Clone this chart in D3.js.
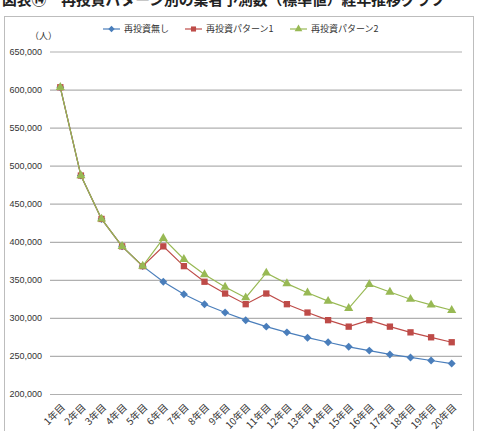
<!DOCTYPE html>
<html>
<head>
<meta charset="utf-8">
<script src="https://cdn.jsdelivr.net/npm/d3@7"></script>
<style>
  body { margin: 0; background: #fff; }
  svg { display: block; }
</style>
</head>
<body>
<div id="chart"></div>
<script>
const years = ["1年目", "2年目", "3年目", "4年目", "5年目", "6年目", "7年目", "8年目", "9年目", "10年目",
               "11年目", "12年目", "13年目", "14年目", "15年目", "16年目", "17年目", "18年目", "19年目", "20年目"]

const noReinvest = [603000, 487000, 430000, 394000, 368000, 347500, 331000, 318000, 307000, 297000,
                    288500, 281000, 274000, 268000, 262000, 257000, 252000, 248000, 244000, 240000]
const pattern1 = [603000, 487000, 430000, 394000, 368000, 394000, 368000, 347500, 332000, 318000,
                  332000, 318000, 307000, 297000, 288500, 297000, 288500, 281000, 274500, 268000]
const pattern2 = [603000, 487000, 430000, 394000, 368000, 404500, 377000, 357000, 340500, 326500,
                  359000, 345000, 333000, 322000, 312500, 344000, 334000, 324500, 317000, 310000]

const yTicks = [200000, 250000, 300000, 350000, 400000, 450000, 500000, 550000, 600000, 650000]

const seriesNames = ["再投資無し", "再投資パターン1", "再投資パターン2"]
const seriesColors = ["#4a7ebb", "#be4b48", "#98b954"]
const seriesShapes = [d3.symbolDiamond2, d3.symbolSquare, d3.symbolTriangle]
const seriesValues = [noReinvest, pattern1, pattern2]

const width = 480
const height = 431
const jpFont = "'Noto Sans CJK JP', sans-serif"
const numFont = "'Liberation Sans', Arial, sans-serif"

const svg = d3.select("#chart").append("svg").attr("width", width).attr("height", height)

// title (its top is cut off in the original too)
svg.append("text")
   .attr("x", 2)
   .attr("y", 5)
   .style("font-family", jpFont)
   .style("font-size", "14.8px")
   .style("font-weight", "bold")
   .attr("fill", "#222")
   .text("図表⑭　再投資パターン別の業者予測数（標準値）経年推移グラフ")

// outer frame
svg.append("rect")
   .attr("x", 4.5)
   .attr("y", 16.5)
   .attr("width", 469)
   .attr("height", 430)
   .attr("fill", "none")
   .attr("stroke", "#bdbdbd")
   .attr("stroke-width", 1)

const xScale = d3.scalePoint()
                 .domain(years)
                 .range([50, 462])
                 .padding(0.5)

const yScale = d3.scaleLinear()
                 .domain([200000, 650000])
                 .range([394, 51.5])

// gridlines + y labels
const gy = svg.append("g")
              .attr("transform", "translate(50,0)")
              .call(d3.axisLeft(yScale)
                      .tickValues(yTicks)
                      .tickSize(-412)
                      .tickPadding(8)
                      .tickFormat(d3.format(",")))
gy.select(".domain").remove()
gy.selectAll(".tick line").attr("stroke", "#b0b0b0").attr("stroke-width", 1.2)
gy.selectAll(".tick text")
  .style("font-family", numFont)
  .style("font-size", "9px")
  .attr("fill", "#333")

// x labels
const gx = svg.append("g")
              .attr("transform", "translate(0,394)")
              .call(d3.axisBottom(xScale).tickSize(0).tickPadding(0))
gx.select(".domain").remove()
gx.selectAll(".tick text")
  .style("font-family", jpFont)
  .style("font-size", "9.8px")
  .attr("fill", "#333")
  .attr("text-anchor", "end")
  .attr("dy", "0")
  .attr("transform", "translate(5,14) rotate(-45)")

// unit label
svg.append("text")
   .attr("x", 30)
   .attr("y", 39)
   .style("font-family", jpFont)
   .style("font-size", "9px")
   .attr("fill", "#333")
   .text("（人）")

const line = d3.line()
               .x((d, i) => xScale(years[i]))
               .y(d => yScale(d))

seriesValues.forEach((vals, s) => {
    svg.append("path")
       .datum(vals)
       .attr("d", line)
       .attr("fill", "none")
       .attr("stroke", seriesColors[s])
       .attr("stroke-width", 1.2)

    svg.append("g")
       .selectAll("path")
       .data(vals)
       .enter()
       .append("path")
       .attr("transform", (d, i) => `translate(${xScale(years[i])},${yScale(d)})`)
       .attr("d", d3.symbol().type(seriesShapes[s]).size(s === 2 ? 36 : 40))
       .attr("fill", seriesColors[s])
})

// legend
const legendX = [103, 185, 290]
seriesNames.forEach((name, s) => {
    const lg = svg.append("g").attr("transform", `translate(${legendX[s]},29)`)
    lg.append("line")
      .attr("x1", 0).attr("x2", 17)
      .attr("stroke", seriesColors[s])
      .attr("stroke-width", 1.2)
    lg.append("path")
      .attr("transform", "translate(8.5,0)")
      .attr("d", d3.symbol().type(seriesShapes[s]).size(26))
      .attr("fill", seriesColors[s])
    lg.append("text")
      .attr("x", 21)
      .attr("y", 3)
      .style("font-family", jpFont)
      .style("font-size", "9px")
      .attr("fill", "#333")
      .text(name)
})
</script>
</body>
</html>
